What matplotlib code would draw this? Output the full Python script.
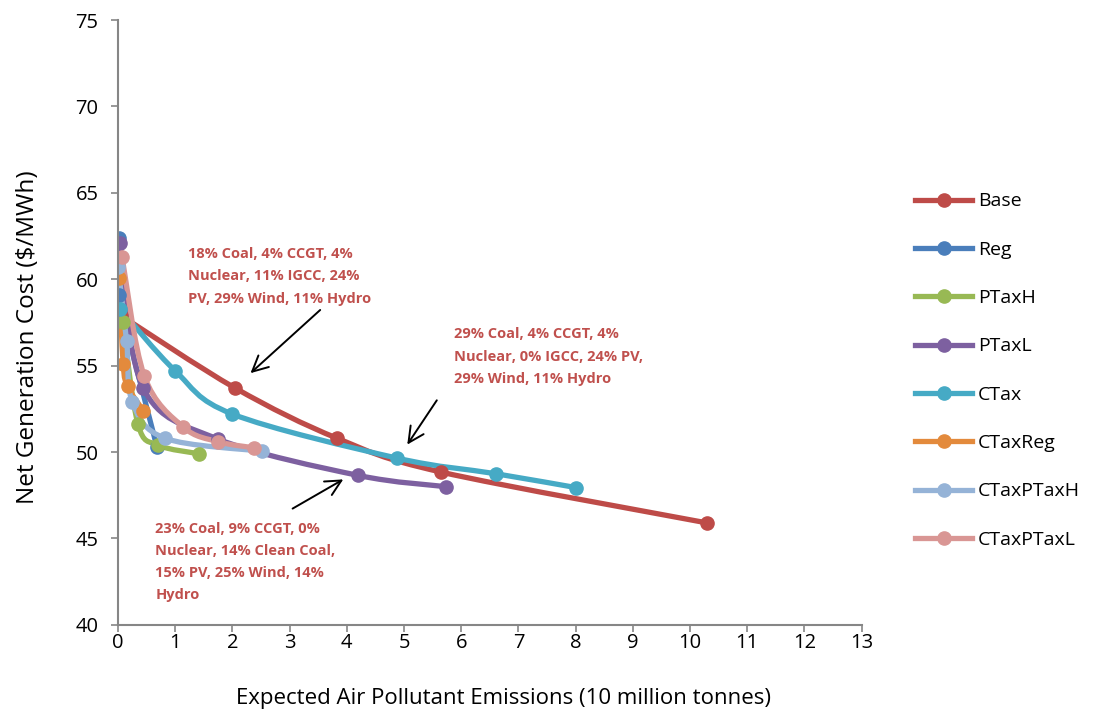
import numpy as np
import matplotlib
matplotlib.use("Agg")
import matplotlib.pyplot as plt
from matplotlib.path import Path
from matplotlib.patches import PathPatch
from matplotlib.lines import Line2D

plt.rcParams['font.family'] = ['Open Sans', 'DejaVu Sans']

names = ["Base", "Reg", "PTaxH", "PTaxL", "CTax", "CTaxReg", "CTaxPTaxH", "CTaxPTaxL"]
colors = ["#BE4B48", "#4A7EBB", "#98B954", "#7D60A0", "#46AAC5", "#E38A3C", "#95B3D7", "#D99694"]

base_x = [0.05, 2.05, 3.83, 5.64, 10.3]
base_y = [57.9, 53.7, 50.8, 48.85, 45.9]
reg_x = [0.02, 0.02, 0.68]
reg_y = [62.4, 59.1, 50.3]
ptaxh_x = [0.08, 0.35, 0.7, 1.42]
ptaxh_y = [57.5, 51.6, 50.4, 49.9]
ptaxl_x = [0.03, 0.44, 1.75, 4.2, 5.73]
ptaxl_y = [62.1, 53.7, 50.75, 48.65, 48.0]
ctax_x = [0.03, 1.0, 2.0, 4.88, 6.6, 8.0]
ctax_y = [58.3, 54.7, 52.2, 49.65, 48.75, 47.95]
ctaxreg_x = [0.02, 0.09, 0.17, 0.44]
ctaxreg_y = [60.1, 55.1, 53.8, 52.4]
ctaxptaxh_x = [0.0, 0.15, 0.25, 0.82, 2.52]
ctaxptaxh_y = [60.7, 56.4, 52.9, 50.8, 50.05]
ctaxptaxl_x = [0.07, 0.46, 1.14, 1.75, 2.37]
ctaxptaxl_y = [61.3, 54.4, 51.45, 50.6, 50.25]

series = [(base_x, base_y), (reg_x, reg_y), (ptaxh_x, ptaxh_y), (ptaxl_x, ptaxl_y),
          (ctax_x, ctax_y), (ctaxreg_x, ctaxreg_y), (ctaxptaxh_x, ctaxptaxh_y),
          (ctaxptaxl_x, ctaxptaxl_y)]

notes = [
    "18% Coal, 4% CCGT, 4%\nNuclear, 11% IGCC, 24%\nPV, 29% Wind, 11% Hydro",
    "29% Coal, 4% CCGT, 4%\nNuclear, 0% IGCC, 24% PV,\n29% Wind, 11% Hydro",
    "23% Coal, 9% CCGT, 0%\nNuclear, 14% Clean Coal,\n15% PV, 25% Wind, 14%\nHydro",
]

fig = plt.figure(figsize=(10.99, 7.15), dpi=100)
ax = fig.add_axes([0.1074, 0.126, 0.6766, 0.846])
ax.set_xlim(0, 13)
ax.set_ylim(40, 75)


def smooth_path(xs, ys):
    # excel style smoothed line, done in display space
    pts = ax.transData.transform(np.column_stack([xs, ys]))
    n = len(pts)
    verts = [pts[0]]
    codes = [Path.MOVETO]
    for i in range(n - 1):
        p0 = pts[i - 1] if i > 0 else pts[i]
        p1 = pts[i]
        p2 = pts[i + 1]
        p3 = pts[i + 2] if i + 2 < n else pts[i + 1]
        c1 = p1 + (p2 - p0) / 6
        c2 = p2 - (p3 - p1) / 6
        verts += [c1, c2, p2]
        codes += [Path.CURVE4] * 3
    verts = ax.transData.inverted().transform(np.array(verts))
    return Path(verts, codes)


handles = []
for name, col, (xs, ys) in zip(names, colors, series):
    patch = PathPatch(smooth_path(xs, ys), facecolor="none", edgecolor=col,
                      lw=3.8, capstyle="round", joinstyle="round")
    ax.add_patch(patch)
    ax.plot(xs, ys, "o", color=col, ms=9.5, mec=col)
    handles.append(Line2D([], [], color=col, lw=3.8, marker="o", ms=9.5, label=name))

note_color = "#C0504D"
note_kw = dict(color=note_color, fontsize=10.5, fontweight="bold", va="top", ha="left",
               linespacing=1.75)
ax.text(1.23, 61.86, notes[0], **note_kw)
ax.text(5.87, 57.22, notes[1], **note_kw)
ax.text(0.65, 45.98, notes[2], **note_kw)

arrow = dict(arrowstyle="->", color="black", lw=1.4, mutation_scale=28)
ax.annotate("", xy=(2.28, 54.46), xytext=(3.57, 58.33), arrowprops=arrow)
ax.annotate("", xy=(5.03, 50.3), xytext=(5.6, 53.13), arrowprops=arrow)
ax.annotate("", xy=(3.98, 48.5), xytext=(3.01, 46.65), arrowprops=arrow)

ax.set_xticks(range(0, 14))
ax.set_yticks(range(40, 80, 5))
for s in ["top", "right"]:
    ax.spines[s].set_visible(False)
for s in ["left", "bottom"]:
    ax.spines[s].set_color("#868686")
    ax.spines[s].set_linewidth(1.5)
ax.tick_params(colors="#868686", labelcolor="black", labelsize=14.5, length=5, width=1.2)
ax.tick_params(axis="x", pad=1)
ax.tick_params(axis="y", pad=9)

ax.set_xlabel("Expected Air Pollutant Emissions (10 million tonnes)", fontsize=16)
ax.xaxis.set_label_coords(0.519, -0.105)
ax.set_ylabel("Net Generation Cost ($/MWh)", fontsize=17.5)
ax.yaxis.set_label_coords(-0.105, 0.476)

ax.legend(handles=handles, loc="upper left", bbox_to_anchor=(1.062, 0.728), frameon=False,
          borderaxespad=0, fontsize=14, handlelength=2.9, labelspacing=1.56,
          handletextpad=0.3)

fig.savefig("out.png", dpi=100)
